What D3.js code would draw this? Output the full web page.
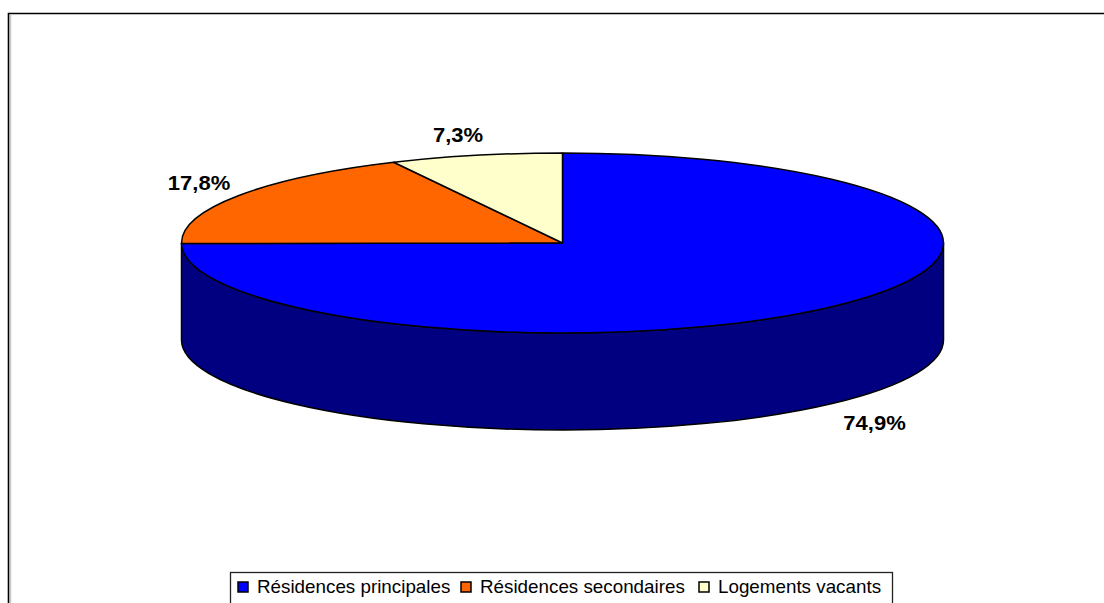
<!doctype html>
<html>

<head>
    <meta http-equiv="Content-Type" content="text/html; charset=utf-8">
    <title>Logements</title>
    <script src="https://cdnjs.cloudflare.com/ajax/libs/d3/7.8.5/d3.min.js"></script>
    <style>
        html, body { margin: 0; padding: 0; background: #fff; overflow: hidden; }
        svg { display: block; }
        text { font-family: "Liberation Sans", Arial, sans-serif; fill: #000; }
    </style>
</head>

<body>
    <svg width="1104" height="603"></svg>
</body>
<script>
    var categories = ["Résidences principales", "Résidences secondaires", "Logements vacants"];
    var values = [74.9, 17.8, 7.3];
    var labels = ["74,9%", "17,8%", "7,3%"];
    var colors = ["#0000ff", "#ff6600", "#ffffcc"];
    var sideColor = "#000080";

    var svg = d3.select("svg");

    //cadre
    svg.append("path")
        .attr("d", "M10.5,603V15")
        .attr("fill", "none")
        .attr("stroke", "#c8c8c8")
        .attr("stroke-width", 1.5);
    svg.append("path")
        .attr("d", "M8.5,603V13.5H1104")
        .attr("fill", "none")
        .attr("stroke", "#000")
        .attr("stroke-width", 1.6);

    //camembert
    var cx = 562.5, cy = 243, rx = 381, ry = 90, depth = 97;

    var pie = d3.pie().sort(null).value(function (d) { return d; });
    var arcs = pie(values);

    //un cercle de rayon 1 aplati par la transformation
    var arc = d3.arc().innerRadius(0).outerRadius(1);

    function px(a) { return cx + rx * Math.sin(a); }
    function py(a) { return cy - ry * Math.cos(a); }

    //flanc visible: moitie avant de la part principale
    var a0 = Math.PI / 2, a1 = arcs[0].endAngle;
    svg.append("path")
        .attr("d", "M" + px(a0) + "," + py(a0)
            + "A" + rx + "," + ry + " 0 0 1 " + px(a1) + "," + py(a1)
            + "V" + (py(a1) + depth)
            + "A" + rx + "," + ry + " 0 0 0 " + px(a0) + "," + (py(a0) + depth)
            + "Z")
        .attr("fill", sideColor)
        .attr("stroke", "#000")
        .attr("stroke-width", 1.5)
        .attr("stroke-linejoin", "round");

    svg.append("g")
        .attr("transform", "translate(" + cx + "," + cy + ") scale(" + rx + "," + ry + ")")
        .selectAll("path")
        .data(arcs)
        .enter().append("path")
        .attr("d", arc)
        .attr("fill", function (d, i) { return colors[i]; })
        .attr("stroke", "#000")
        .attr("stroke-width", 1.5)
        .attr("stroke-linejoin", "round")
        .attr("vector-effect", "non-scaling-stroke");

    //etiquettes (texte un peu elargi comme dans l'original)
    var labelPos = [[874.5, 430], [199, 190], [458, 142]];
    svg.append("g")
        .selectAll("text")
        .data(labels)
        .enter().append("text")
        .attr("transform", function (d, i) {
            return "translate(" + labelPos[i][0] + "," + labelPos[i][1] + ") scale(1.13,1)";
        })
        .attr("text-anchor", "middle")
        .attr("font-size", 19.5)
        .attr("font-weight", "bold")
        .text(function (d) { return d; });

    //legende
    svg.append("rect")
        .attr("x", 230.5).attr("y", 572.5)
        .attr("width", 662).attr("height", 40)
        .attr("fill", "#fff")
        .attr("stroke", "#222")
        .attr("stroke-width", 1.3);

    var legendX = [237, 460, 698];
    var legend = svg.append("g")
        .selectAll("g")
        .data(categories)
        .enter().append("g")
        .attr("transform", function (d, i) { return "translate(" + legendX[i] + ",587)"; });
    legend.append("rect")
        .attr("x", 1).attr("y", -5)
        .attr("width", 10).attr("height", 10)
        .attr("fill", function (d, i) { return colors[i]; })
        .attr("stroke", "#000")
        .attr("stroke-width", 1.5);
    legend.append("text")
        .attr("transform", "translate(20,5.5) scale(1.075,1)")
        .attr("font-size", 17.5)
        .text(function (d) { return d; });
</script>

</html>
